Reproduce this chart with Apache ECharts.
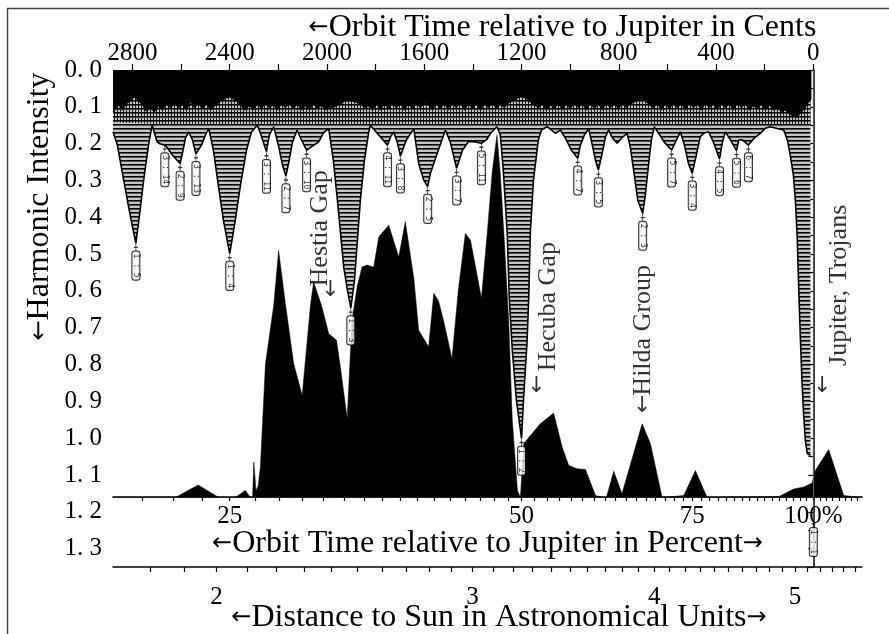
<!DOCTYPE html>
<html><head><meta charset="utf-8">
<script src="https://cdn.jsdelivr.net/npm/echarts@6/dist/echarts.min.js"></script>
<style>html,body{margin:0;padding:0;background:#fff}#c{width:889px;height:634px}</style>
</head><body><div id="c"></div>
<script>
// ---------- DATA (x = orbit time in cents relative to Jupiter, y = harmonic intensity) ----------
// boundary of the solid black band at the top
const band = [[2880,0.114],[2858,0.095],[2841,0.109],[2825,0.092],[2808,0.084],[2792,0.073],[2775,0.084],[2759,0.095],[2743,0.112],[2726,0.103],[2710,0.114],[2693,0.098],[2677,0.109],[2660,0.092],[2644,0.106],[2627,0.090],[2611,0.103],[2595,0.095],[2578,0.109],[2562,0.087],[2545,0.103],[2529,0.092],[2512,0.106],[2496,0.090],[2479,0.109],[2463,0.098],[2447,0.090],[2430,0.082],[2414,0.076],[2401,0.073],[2385,0.079],[2368,0.087],[2352,0.098],[2336,0.109],[2319,0.095],[2303,0.109],[2286,0.092],[2270,0.106],[2253,0.090],[2237,0.103],[2220,0.095],[2204,0.109],[2187,0.092],[2171,0.103],[2155,0.090],[2138,0.106],[2122,0.092],[2105,0.109],[2089,0.098],[2072,0.109],[2056,0.092],[2039,0.106],[2023,0.095],[2007,0.109],[1990,0.101],[1974,0.103],[1957,0.095],[1941,0.090],[1924,0.084],[1904,0.082],[1883,0.087],[1863,0.092],[1846,0.103],[1830,0.098],[1813,0.109],[1797,0.092],[1780,0.109],[1764,0.092],[1748,0.106],[1731,0.090],[1715,0.103],[1698,0.092],[1682,0.109],[1665,0.092],[1649,0.106],[1632,0.090],[1616,0.103],[1600,0.090],[1583,0.095],[1567,0.109],[1550,0.092],[1534,0.106],[1517,0.090],[1501,0.109],[1484,0.092],[1468,0.103],[1451,0.090],[1435,0.109],[1419,0.092],[1402,0.106],[1386,0.090],[1369,0.109],[1353,0.092],[1336,0.103],[1320,0.090],[1303,0.106],[1287,0.092],[1271,0.103],[1254,0.090],[1238,0.084],[1221,0.079],[1201,0.071],[1180,0.079],[1164,0.087],[1147,0.095],[1131,0.103],[1114,0.092],[1098,0.109],[1081,0.095],[1065,0.106],[1049,0.090],[1032,0.109],[1016,0.092],[999,0.106],[983,0.090],[966,0.103],[950,0.092],[933,0.109],[917,0.090],[900,0.106],[884,0.092],[868,0.109],[851,0.090],[835,0.103],[818,0.092],[802,0.106],[785,0.092],[769,0.103],[752,0.092],[736,0.087],[720,0.082],[707,0.079],[691,0.084],[674,0.095],[658,0.103],[641,0.092],[625,0.109],[609,0.092],[592,0.106],[576,0.090],[559,0.103],[543,0.092],[526,0.109],[510,0.090],[493,0.103],[477,0.092],[461,0.109],[444,0.090],[428,0.103],[411,0.092],[395,0.109],[378,0.090],[362,0.103],[345,0.092],[329,0.109],[312,0.090],[296,0.103],[280,0.092],[263,0.109],[247,0.095],[230,0.106],[214,0.092],[197,0.109],[181,0.095],[164,0.109],[148,0.103],[132,0.114],[115,0.109],[99,0.120],[82,0.125],[66,0.128],[53,0.117],[41,0.109],[29,0.098],[16,0.084],[8,0.076]];

// depth reached by the dense vertical harmonic lines below the band
const comb = [[2880,0.142],[2719,0.146],[2569,0.150],[2486,0.148],[2287,0.146],[2123,0.150],[1993,0.148],[1822,0.146],[1643,0.150],[1513,0.150],[1301,0.148],[1095,0.148],[924,0.150],[766,0.150],[654,0.148],[547,0.150],[362,0.150],[177,0.148],[122,0.150],[12,0.150]];

// lower envelope of the hatched harmonic spectrum (resonance dips)
const envelope = [[2880,0.168],[2862,0.204],[2836,0.299],[2811,0.389],[2786,0.471],[2770,0.389],[2754,0.299],[2734,0.204],[2719,0.150],[2699,0.195],[2685,0.201],[2667,0.204],[2656,0.212],[2636,0.231],[2604,0.254],[2592,0.218],[2582,0.185],[2569,0.168],[2553,0.190],[2539,0.228],[2516,0.204],[2500,0.177],[2486,0.159],[2467,0.218],[2447,0.313],[2426,0.408],[2400,0.499],[2377,0.408],[2356,0.313],[2331,0.218],[2311,0.169],[2287,0.150],[2274,0.171],[2249,0.222],[2237,0.177],[2219,0.154],[2200,0.204],[2183,0.258],[2169,0.288],[2157,0.250],[2142,0.196],[2123,0.163],[2105,0.190],[2084,0.218],[2064,0.209],[2034,0.195],[2015,0.171],[1993,0.159],[1974,0.245],[1957,0.354],[1931,0.536],[1916,0.598],[1902,0.647],[1887,0.571],[1875,0.462],[1863,0.354],[1846,0.245],[1829,0.171],[1822,0.150],[1794,0.172],[1776,0.185],[1751,0.204],[1739,0.182],[1726,0.168],[1711,0.196],[1698,0.234],[1674,0.190],[1643,0.159],[1623,0.254],[1602,0.299],[1586,0.317],[1575,0.281],[1547,0.227],[1513,0.163],[1493,0.196],[1467,0.267],[1443,0.218],[1419,0.195],[1397,0.195],[1365,0.199],[1345,0.190],[1324,0.169],[1301,0.154],[1287,0.177],[1275,0.272],[1259,0.443],[1250,0.626],[1238,0.761],[1221,0.897],[1200,1.001],[1192,0.897],[1177,0.734],[1170,0.606],[1164,0.443],[1151,0.299],[1131,0.190],[1118,0.163],[1095,0.154],[1077,0.163],[1061,0.172],[1040,0.163],[1016,0.190],[995,0.218],[969,0.240],[958,0.204],[942,0.177],[924,0.159],[909,0.204],[896,0.245],[884,0.272],[870,0.231],[855,0.182],[842,0.163],[826,0.185],[807,0.199],[789,0.185],[766,0.172],[752,0.212],[736,0.286],[722,0.354],[702,0.390],[691,0.340],[678,0.258],[666,0.190],[654,0.154],[637,0.171],[613,0.196],[583,0.218],[563,0.190],[547,0.168],[530,0.204],[514,0.253],[498,0.281],[481,0.230],[465,0.181],[448,0.171],[430,0.168],[411,0.196],[386,0.242],[374,0.196],[362,0.168],[341,0.190],[316,0.219],[307,0.190],[292,0.190],[267,0.204],[243,0.185],[218,0.172],[197,0.158],[177,0.154],[149,0.159],[122,0.163],[107,0.190],[95,0.231],[82,0.286],[74,0.354],[66,0.462],[60,0.598],[53,0.734],[47,0.843],[41,0.925],[33,1.006],[25,1.042],[12,1.047]];

// asteroid distribution (black silhouette rising from the baseline)
const asteroids = [[2880,1.161],[2623,1.161],[2530,1.127],[2445,1.161],[2377,1.161],[2336,1.142],[2315,1.161],[2306,1.161],[2301,1.065],[2292,1.142],[2283,1.130],[2274,1.079],[2253,0.798],[2219,0.639],[2199,0.490],[2171,0.635],[2137,0.798],[2102,0.884],[2068,0.639],[2055,0.576],[2023,0.639],[1993,0.716],[1961,0.734],[1945,0.807],[1917,0.947],[1897,0.680],[1876,0.589],[1856,0.535],[1835,0.530],[1808,0.535],[1787,0.453],[1746,0.422],[1705,0.508],[1678,0.412],[1643,0.566],[1623,0.707],[1582,0.752],[1561,0.607],[1542,0.626],[1521,0.680],[1486,0.784],[1460,0.598],[1431,0.444],[1410,0.462],[1365,0.620],[1340,0.435],[1320,0.272],[1301,0.177],[1287,0.286],[1271,0.462],[1253,0.680],[1238,0.952],[1217,1.142],[1205,1.161],[1199,1.161],[1190,1.014],[1123,0.961],[1068,0.932],[1033,1.024],[1006,1.074],[972,1.083],[937,1.085],[896,1.156],[863,1.161],[851,1.161],[821,1.090],[787,1.151],[704,0.961],[670,1.015],[622,1.161],[533,1.156],[485,1.088],[437,1.161],[143,1.159],[81,1.138],[40,1.133],[5,1.122],[-8,1.088],[-63,1.031],[-125,1.156],[-132,1.161],[-200,1.161]];
const baseline = 1.161;

// resonance labels: name, cents, intensity at dip
const resNames = ['1:5','3:14','2:9','3:13','1:4','3:11','2:7','3:10','1:3','4:11','3:8','2:5','3:7','5:11','1:2','4:7','3:5','2:3','5:7','3:4','4:5','5:6','6:7','1:1'];
const resCents = [2786,2667,2604,2539,2400,2249,2169,2084,1902,1751,1698,1586,1467,1365,1200,969,884,702,583,498,386,316,267,0];
const resDepth = [0.471,0.204,0.254,0.228,0.499,0.222,0.288,0.218,0.647,0.204,0.234,0.317,0.267,0.199,1.001,0.240,0.272,0.390,0.218,0.281,0.242,0.219,0.204,1.222];

// annotations
const notes = [
  {text:'Hestia Gap', c:2027, v:0.43, arrowC:1986, arrowV:0.598},
  {text:'Hecuba Gap', c:1090, v:0.643, arrowC:1139, arrowV:0.859},
  {text:'Hilda Group', c:701, v:0.707, arrowC:704, arrowV:0.914},
  {text:'Jupiter, Trojans', c:-107, v:0.585, arrowC:-36, arrowV:0.859}
];

// tick labels
const centsLabels = [0,400,800,1200,1600,2000,2400,2800];
const centsTicks = [0,200,400,600,800,1000,1200,1400,1600,1800,2000,2200,2400,2600,2800];
const percentLabels = [25,50,75,100];
const percentTicks64 = [13,14,15,16,17,18,19,20,21,22,23,24,25,26,27,28,29,30,31,32,33,34,35,36,37,38,39,40,41,42,43,44,45,46,47,48,49,50,51,52,53,54,55,56,57,58,59,60,61,62,63,64,65,66,67,68,69,70,71];
const auLabels = [2,3,4,5];
const auTicks = [1.8,1.9,2.0,2.1,2.2,2.3,2.4,2.5,2.6,2.7,2.8,2.9,3.0,3.1,3.2,3.3,3.4,3.5,3.6,3.7,3.8,3.9,4.0,4.1,4.2,4.3,4.4,4.5,4.6,4.7,4.8,4.9,5.0,5.1,5.2,5.3,5.4,5.5];

// ---------- axis transforms ----------
const JUP_AU = 5.147;
const pctToCents = p => 1200*Math.log2(100/p);
const centsToPct = c => 100*Math.pow(2,-c/1200);
const auToCents = a => 1800*Math.log2(JUP_AU/a);
const centsToAu = c => JUP_AU*Math.pow(2,-c/1800);

// hatch pattern (horizontal rules)
const pat = document.createElement('canvas');
pat.width = 4; pat.height = 4;
const pc = pat.getContext('2d');
pc.fillStyle = '#c4c4c4'; pc.fillRect(0,0,4,4);
pc.fillStyle = '#000'; pc.fillRect(0,0,4,1);
pc.fillStyle = '#555'; pc.fillRect(0,1,4,1);
// vertical comb pattern
const pat2 = document.createElement('canvas');
pat2.width = 3; pat2.height = 4;
const pc2 = pat2.getContext('2d');
pc2.fillStyle = 'rgba(0,0,0,0.85)'; pc2.fillRect(0,0,1,4);

const SERIF = '"Liberation Serif", "DejaVu Serif", serif';
const ARW = {fontFamily:'"DejaVu Sans", sans-serif', fontSize:24, color:'#000'};
const XMIN = -200, XMAX = 2880;

const chart = echarts.init(document.getElementById('c'), null, {renderer:'canvas'});
const option = {
  backgroundColor: '#fff',
  animation: false,
  textStyle: {fontFamily: SERIF, color:'#000'},
  graphic: [{type:'rect', shape:{x:7.5, y:8.5, width:1000, height:1000}, style:{fill:'none', stroke:'#444', lineWidth:1.5}, silent:true, z:-10}],
  grid: [
    {left:113, top:70, width:749, height:497, outerBoundsMode:'none', containLabel:false},
    {left:113, top:70, width:749, height:427, outerBoundsMode:'none', containLabel:false}
  ],
  xAxis: [
    { gridIndex:0, type:'value', position:'top', min:XMIN, max:XMAX, inverse:true,
      axisLine:{show:false}, splitLine:{show:false},
      axisTick:{show:true, length:6, lineStyle:{color:'#000', width:1.2}, customValues: centsTicks},
      axisLabel:{show:true, customValues: centsLabels, formatter: v => String(Math.round(v)), fontSize:25, fontFamily:SERIF, color:'#000', margin:4},
      name:'{a|←}Orbit Time relative to Jupiter in Cents', nameLocation:'middle', nameGap:26, nameMoveOverlap:false,
      nameTextStyle:{fontSize:32, fontFamily:SERIF, color:'#000', padding:[0,0,0,150], rich:{a:ARW}}
    },
    { gridIndex:0, type:'value', position:'bottom', min:XMIN, max:XMAX, inverse:true,
      axisLine:{show:true, lineStyle:{color:'#000', width:1.5}}, splitLine:{show:false},
      axisTick:{show:true, length:5, lineStyle:{color:'#000', width:1.2}, customValues: auTicks.map(auToCents)},
      axisLabel:{show:true, customValues: auLabels.map(auToCents), formatter: v => String(Math.round(centsToAu(v))), fontSize:25, fontFamily:SERIF, color:'#000', margin:18},
      name:'{a|←}Distance to Sun in Astronomical Units{a|→}', nameLocation:'middle', nameGap:35, nameMoveOverlap:false,
      nameTextStyle:{fontSize:32, fontFamily:SERIF, color:'#000', padding:[0,0,0,23], rich:{a:ARW}}
    },
    { gridIndex:1, type:'value', position:'bottom', min:XMIN, max:XMAX, inverse:true,
      axisLine:{show:true, lineStyle:{color:'#000', width:1.5}}, splitLine:{show:false},
      axisTick:{show:true, length:4, lineStyle:{color:'#000', width:1.2}, customValues: percentTicks64.map(k => pctToCents(k*100/64))},
      axisLabel:{show:true, customValues: percentLabels.map(pctToCents), formatter: v => { const p = Math.round(centsToPct(v)); return p===100 ? '100%' : String(p); }, fontSize:25, fontFamily:SERIF, color:'#000', margin:7},
      name:'{a|←}Orbit Time relative to Jupiter in Percent{a|→}', nameLocation:'middle', nameGap:31, nameMoveOverlap:false,
      nameTextStyle:{fontSize:32, fontFamily:SERIF, color:'#000', rich:{a:ARW}}
    }
  ],
  yAxis: [
    { gridIndex:0, type:'value', min:0, max:1.35, inverse:true, interval:0.1,
      axisLine:{show:true, lineStyle:{color:'#000', width:1.5}}, splitLine:{show:false},
      axisTick:{show:true, length:5, lineStyle:{color:'#000', width:1.2}},
      minorTick:{show:true, splitNumber:2, length:5, lineStyle:{color:'#000', width:1.2}},
      axisLabel:{showMaxLabel:false, formatter: v => v.toFixed(1).replace('.', '. '), fontSize:25, fontFamily:SERIF, color:'#000', margin:11},
      name:'{a|←}Harmonic Intensity', nameLocation:'middle', nameGap:57, nameMoveOverlap:false,
      nameTextStyle:{fontSize:32, fontFamily:SERIF, color:'#000', padding:[0,0,0,224], rich:{a:ARW}}
    },
    { gridIndex:1, type:'value', min:0, max:1, show:false }
  ],
  series: [
    { name:'asteroids', type:'line', xAxisIndex:0, yAxisIndex:0, data: asteroids, symbol:'none', z:1,
      lineStyle:{width:0.5, color:'#000'}, areaStyle:{color:'#000', opacity:1, origin: baseline},
      markLine:{silent:true, symbol:'none', label:{show:false},
        data:[
          [{coord:[0,0], lineStyle:{color:'#555', width:1.2, type:'solid'}},{coord:[0,baseline]}],
          [{coord:[0,baseline], lineStyle:{color:'#555', width:1, type:[1,2]}},{coord:[0,1.225]}]
        ]}
    },
    { name:'spectrum', type:'line', xAxisIndex:0, yAxisIndex:0, data: envelope, symbol:'none', z:2,
      lineStyle:{width:1.6, color:'#000'}, areaStyle:{color:{image:pat, repeat:'repeat'}, opacity:1, origin:'start'} },
    { name:'comb', type:'line', xAxisIndex:0, yAxisIndex:0, data: comb, symbol:'none', z:2.5,
      lineStyle:{width:0}, areaStyle:{color:{image:pat2, repeat:'repeat'}, opacity:1, origin:'start'} },
    { name:'band', type:'line', xAxisIndex:0, yAxisIndex:0, data: band, symbol:'none', z:3,
      lineStyle:{width:1, color:'#000'}, areaStyle:{color:'#000', opacity:1, origin:'start'} },
    { name:'resonances', type:'scatter', xAxisIndex:0, yAxisIndex:0, z:5,
      data: resNames.map((n,i) => ({name:n, value:[resCents[i], resDepth[i]]})),
      symbol:'path://M0,0L0,10M-3,5L3,5', symbolSize:[4,7], symbolOffset:[0,4],
      itemStyle:{color:'rgba(0,0,0,0)', borderColor:'#000', borderWidth:1},
      label:{show:true, position:'bottom', distance:0, rotate:-90, align:'left', verticalAlign:'middle',
        formatter: p => p.name.replace(':',' : '),
        fontFamily:'"DejaVu Sans Mono", monospace', fontSize:8, lineHeight:7, color:'#000',
        backgroundColor:'#fff', borderColor:'#000', borderWidth:1, borderRadius:2, padding:[0,2,0,2]}
    },
    { name:'notes', type:'scatter', xAxisIndex:0, yAxisIndex:0, z:6, symbolSize:0,
      data: notes.map(n => ({name:n.text, value:[n.c, n.v]})),
      label:{show:true, position:'inside', rotate:90, formatter: p => p.name, fontSize:26, fontFamily:SERIF, color:'#000'}
    },
    { name:'arrows', type:'scatter', xAxisIndex:0, yAxisIndex:0, z:6, symbolSize:0,
      data: notes.map(n => ({name:'↓', value:[n.arrowC, n.arrowV]})),
      label:{show:true, position:'inside', formatter: p => p.name, fontSize:22, fontFamily:'"DejaVu Sans", sans-serif', color:'#000'}
    }
  ]
};
chart.setOption(option);
</script></body></html>
